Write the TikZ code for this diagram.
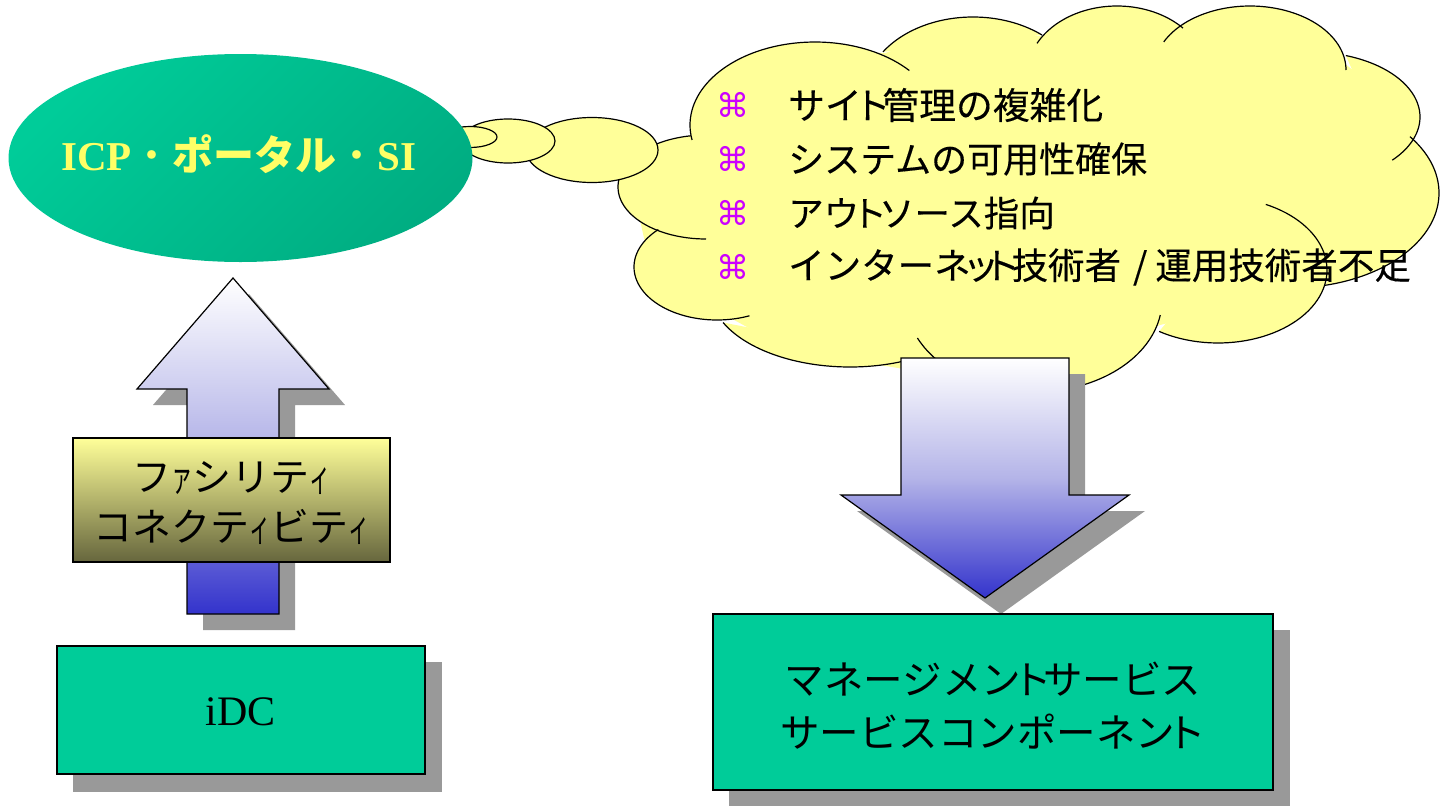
\documentclass[tikz,border=0pt]{standalone}
\usepackage{graphicx}
\usepackage{fontspec}
\setmainfont{Liberation Serif}
\newfontfamily\jpfont{Noto Sans CJK JP}
\newfontfamily\jpheavy[FakeBold=0.25]{Noto Sans CJK JP}
\newfontfamily\symfont{DejaVu Sans}
\usetikzlibrary{shapes.geometric}
\definecolor{cloudfill}{RGB}{255,255,153}
\definecolor{boxgreen}{RGB}{0,204,153}
\definecolor{shadowgray}{RGB}{153,153,153}
\definecolor{bulletmag}{RGB}{204,0,255}
\definecolor{arrowblue}{RGB}{51,51,204}
\definecolor{arrowmid}{RGB}{180,180,232}
\definecolor{lightarrow}{RGB}{255,255,255}
\definecolor{titleyellow}{RGB}{255,255,102}
\newcommand{\hn}[1]{\scalebox{.55}[1]{#1}}
\newcommand{\kn}[1]{\hspace{-.22em}#1\hspace{-.22em}}
\newcommand{\lobearc}[7]{\path[#1,domain=#6:#7,samples=60,variable=\t] plot ({#2+#4*cos(\t)},{#3+#5*sin(\t)});}
\newcommand{\cloudlobes}[1]{%
 \lobearc{#1}{815}{125}{125}{83}{169.6}{319}
 \lobearc{#1}{973}{95}{108}{78}{213.5}{309.7}
 \lobearc{#1}{1117}{75}{90}{69}{207.3}{317.2}
 \lobearc{#1}{1250}{70}{96}{64}{206}{360}
 \lobearc{#1}{1310}{117}{110}{65}{-71}{41.6}
 \lobearc{#1}{1290}{193}{149}{95}{-36.4}{76.4}
 \lobearc{#1}{1218}{270}{109}{73}{-64}{122.7}
 \lobearc{#1}{1034}{300}{128}{92}{9.4}{155.6}
 \lobearc{#1}{850}{290}{140}{77}{64}{155}
 \lobearc{#1}{717}{267}{83}{53}{67}{225}
 \lobearc{#1}{706}{187}{88}{52}{90}{260}
}
\tikzset{
 x=1pt,y=-1pt,
 lobefill/.style={fill=cloudfill},
 lobeline/.style={draw=black,line width=1.2pt},
 bubble/.style={ellipse,draw=black,fill=cloudfill,line width=1.2pt,inner sep=0pt},
 plainbox/.style={rectangle,draw=black,fill=boxgreen,line width=1.2pt,inner sep=0pt},
 bulletnode/.style={inner sep=0pt,text=bulletmag,font=\symfont\fontsize{33}{36}\selectfont},
 itemnode/.style={inner sep=0pt,anchor=west,text=black},
 blockarrow/.style={draw=black,line width=1.2pt,top color=lightarrow,bottom color=arrowblue,middle color=arrowmid},
}
\begin{document}
\begin{tikzpicture}
\useasboundingbox (0,0) rectangle (1441,806);
% cloud
\cloudlobes{lobefill}
\fill[cloudfill] (705,125)--(800,50)--(885,53)--(970,25)--(1038,36)--(1048,36)--(1115,12)--(1178,28)--(1185,40)--(1250,12)--(1340,60)--(1410,115)--(1412,142)--(1430,190)--(1320,285)--(1160,325)--(1000,385)--(850,360)--(780,345)--(725,315)--(650,265)--(630,175)--cycle;
\cloudlobes{lobeline}
% thought bubbles
\node[bubble,minimum width=132pt,minimum height=65pt] (bubbleC) at (592,150) {};
\node[bubble,minimum width=94pt,minimum height=44pt] (bubbleB) at (508,141) {};
\node[bubble,minimum width=54pt,minimum height=21pt] (bubbleA) at (470,137) {};
% ellipse
\node[ellipse,inner sep=0pt,minimum width=464pt,minimum height=208pt,top color=boxgreen,bottom color=boxgreen!85!black,shading angle=45] (portal) at (240.5,158) {};
\node[inner sep=0pt,text=titleyellow,font=\bfseries\fontsize{41}{50}\selectfont] (portaltext) at (239,154) {ICP{\jpfont\mdseries ・}{\jpfont ポータル}{\jpfont\mdseries ・}SI};
% left arrow
\fill[shadowgray] (249,294)--(345,405)--(295,405)--(295,630)--(203,630)--(203,405)--(153,405)--cycle;
\path[blockarrow] (233,278)--(329,389)--(279,389)--(279,614)--(187,614)--(187,389)--(137,389)--cycle;
\node[draw=black,line width=1.2pt,inner sep=0pt,minimum width=317pt,minimum height=124pt,top color=cloudfill,bottom color=cloudfill!40!black] (facility) at (231.5,500) {};
\node[inner sep=0pt,align=center,font=\jpfont\fontsize{39}{50}\selectfont] (facilitytext) at (231.5,503) {フ\hn{ァ}シリテ\hn{ィ}\\コネクテ\hn{ィ}ビテ\hn{ィ}};
% iDC
\fill[shadowgray] (73,662) rectangle (442,792);
\node[plainbox,minimum width=368pt,minimum height=128pt] (idc) at (241,710) {};
\node[inner sep=0pt,font=\fontsize{42}{46}\selectfont] (idctext) at (241,712) {iDC};
% down arrow
\fill[shadowgray] (917,374)--(1085,374)--(1085,511)--(1145,511)--(1001,614)--(857,511)--(917,511)--cycle;
\path[blockarrow] (901,358)--(1069,358)--(1069,495)--(1129,495)--(985,598)--(841,495)--(901,495)--cycle;
% management box
\fill[shadowgray] (729,630) rectangle (1290,806);
\node[plainbox,minimum width=560pt,minimum height=176pt] (mgmt) at (993,702) {};
\node[inner sep=0pt,align=center,font=\jpfont\fontsize{39.5}{53}\selectfont] (mgmttext) at (993,705.5) {マネージメン\kn{ト}サービス\\サービスコンポーネン\kn{ト}};
% list
\node[bulletnode] (b1) at (733,105) {⌘};
\node[bulletnode] (b2) at (733,159) {⌘};
\node[bulletnode] (b3) at (733,213) {⌘};
\node[bulletnode] (b4) at (733,267) {⌘};
\node[itemnode,font=\jpheavy\fontsize{36.8}{40}\selectfont] (t1) at (788,105) {サイ\kn{ト}管理の複雑化};
\node[itemnode,font=\jpheavy\fontsize{36}{40}\selectfont] (t2) at (788,159) {システムの可用性確保};
\node[itemnode,font=\jpheavy\fontsize{35.5}{40}\selectfont] (t3) at (788,213) {アウ\kn{ト}ソース指向};
\node[itemnode,font=\jpheavy\fontsize{36.5}{40}\selectfont] (t4) at (788,267) {インターネ\kn{ッ}\kn{ト}技術者\hspace{12pt}/\hspace{8pt}運用技術者不足};
\end{tikzpicture}
\end{document}
